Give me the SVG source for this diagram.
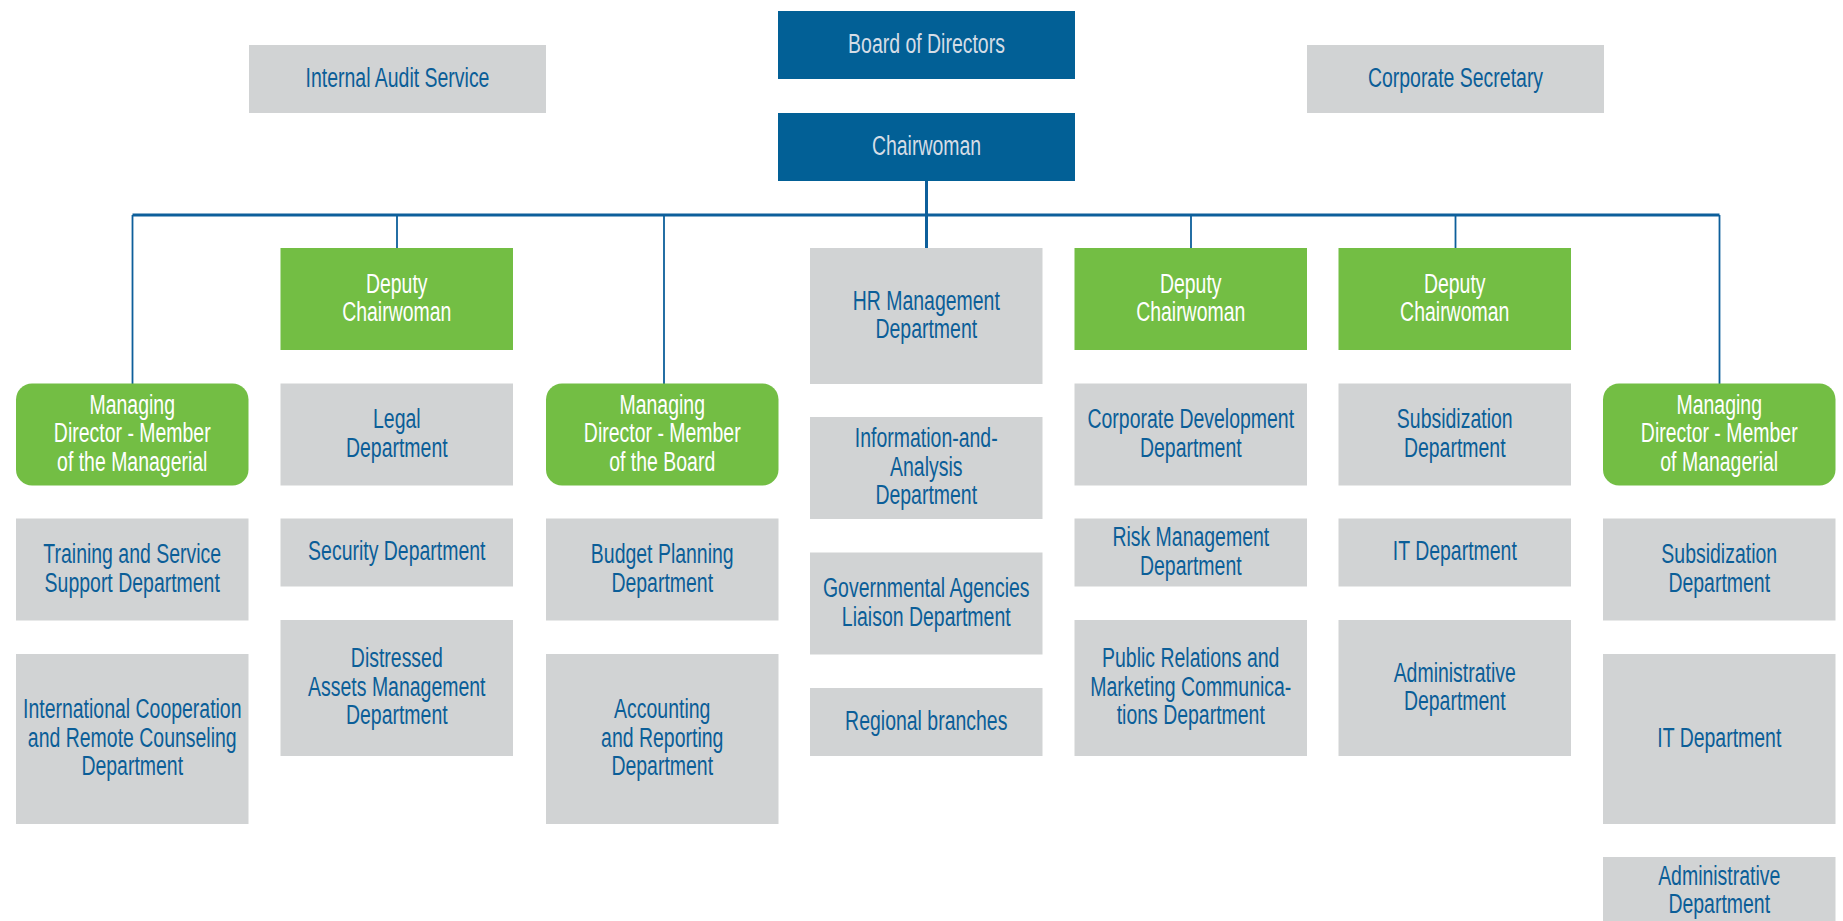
<svg xmlns="http://www.w3.org/2000/svg" width="1843" height="921" viewBox="0 0 1843 921">
<style>
.gray{fill:#d1d3d4}
.blue{fill:#026096}
.green{fill:#73be44}
text{font-family:"Liberation Sans",Arial,sans-serif;font-size:28px;text-anchor:middle;transform-box:fill-box;transform-origin:center;transform:scaleX(.695)}
.tg{fill:#0b5e98}
.tw{fill:#ffffff}
.tb{fill:#d5dde6}
.ln{stroke:#0d5f9b;fill:none}
</style>
<rect width="1843" height="921" fill="#ffffff"/>
<g id="connectors">
<line class="ln" x1="132.5" y1="215" x2="1719.5" y2="215" stroke-width="3"/>
<line class="ln" x1="926.5" y1="181" x2="926.5" y2="248" stroke-width="3"/>
<line class="ln" x1="132.5" y1="215" x2="132.5" y2="384" stroke-width="1.8"/>
<line class="ln" x1="397" y1="215" x2="397" y2="248" stroke-width="1.8"/>
<line class="ln" x1="664" y1="215" x2="664" y2="384" stroke-width="1.8"/>
<line class="ln" x1="1191" y1="215" x2="1191" y2="248" stroke-width="1.8"/>
<line class="ln" x1="1455.5" y1="215" x2="1455.5" y2="248" stroke-width="1.8"/>
<line class="ln" x1="1719.5" y1="215" x2="1719.5" y2="384" stroke-width="1.8"/>
</g>
<g id="internal-audit"><rect class="gray" x="249" y="45" width="297" height="68"/><text class="tg" x="397.5" y="87">Internal Audit Service</text></g>
<g id="board"><rect class="blue" x="778" y="11" width="297" height="68"/><text class="tb" x="926.5" y="53">Board of Directors</text></g>
<g id="corporate-secretary"><rect class="gray" x="1307" y="45" width="297" height="68"/><text class="tg" x="1455.5" y="87">Corporate Secretary</text></g>
<g id="chairwoman"><rect class="blue" x="778" y="113" width="297" height="68"/><text class="tb" x="926.5" y="155">Chairwoman</text></g>

<g id="md1"><rect class="green" x="16" y="383.5" width="232.5" height="102" rx="16"/><text class="tw" x="132.25" y="414">Managing<tspan x="132.25" dy="28.5">Director - Member</tspan><tspan x="132.25" dy="28.5">of the Managerial</tspan></text></g>
<g id="training"><rect class="gray" x="16" y="518.5" width="232.5" height="102"/><text class="tg" x="132.25" y="563.25">Training and Service<tspan x="132.25" dy="28.5">Support Department</tspan></text></g>
<g id="international"><rect class="gray" x="16" y="654" width="232.5" height="170"/><text class="tg" x="132.25" y="718.5">International Cooperation<tspan x="132.25" dy="28.5">and Remote Counseling</tspan><tspan x="132.25" dy="28.5">Department</tspan></text></g>

<g id="deputy1"><rect class="green" x="280.5" y="248" width="232.5" height="102"/><text class="tw" x="396.75" y="292.75">Deputy<tspan x="396.75" dy="28.5">Chairwoman</tspan></text></g>
<g id="legal"><rect class="gray" x="280.5" y="383.5" width="232.5" height="102"/><text class="tg" x="396.75" y="428.25">Legal<tspan x="396.75" dy="28.5">Department</tspan></text></g>
<g id="security"><rect class="gray" x="280.5" y="518.5" width="232.5" height="68"/><text class="tg" x="396.75" y="560.5">Security Department</text></g>
<g id="distressed"><rect class="gray" x="280.5" y="620" width="232.5" height="136"/><text class="tg" x="396.75" y="667.5">Distressed<tspan x="396.75" dy="28.5">Assets Management</tspan><tspan x="396.75" dy="28.5">Department</tspan></text></g>

<g id="md2"><rect class="green" x="546" y="383.5" width="232.5" height="102" rx="16"/><text class="tw" x="662.25" y="414">Managing<tspan x="662.25" dy="28.5">Director - Member</tspan><tspan x="662.25" dy="28.5">of the Board</tspan></text></g>
<g id="budget"><rect class="gray" x="546" y="518.5" width="232.5" height="102"/><text class="tg" x="662.25" y="563.25">Budget Planning<tspan x="662.25" dy="28.5">Department</tspan></text></g>
<g id="accounting"><rect class="gray" x="546" y="654" width="232.5" height="170"/><text class="tg" x="662.25" y="718.5">Accounting<tspan x="662.25" dy="28.5">and Reporting</tspan><tspan x="662.25" dy="28.5">Department</tspan></text></g>

<g id="hr"><rect class="gray" x="810" y="248" width="232.5" height="136"/><text class="tg" x="926.25" y="309.75">HR Management<tspan x="926.25" dy="28.5">Department</tspan></text></g>
<g id="info"><rect class="gray" x="810" y="417" width="232.5" height="102"/><text class="tg" x="926.25" y="447.5">Information-and-<tspan x="926.25" dy="28.5">Analysis</tspan><tspan x="926.25" dy="28.5">Department</tspan></text></g>
<g id="gov"><rect class="gray" x="810" y="552.5" width="232.5" height="102"/><text class="tg" x="926.25" y="597.25">Governmental Agencies<tspan x="926.25" dy="28.5">Liaison Department</tspan></text></g>
<g id="regional"><rect class="gray" x="810" y="688" width="232.5" height="68"/><text class="tg" x="926.25" y="730">Regional branches</text></g>

<g id="deputy2"><rect class="green" x="1074.5" y="248" width="232.5" height="102"/><text class="tw" x="1190.75" y="292.75">Deputy<tspan x="1190.75" dy="28.5">Chairwoman</tspan></text></g>
<g id="corpdev"><rect class="gray" x="1074.5" y="383.5" width="232.5" height="102"/><text class="tg" x="1190.75" y="428.25">Corporate Development<tspan x="1190.75" dy="28.5">Department</tspan></text></g>
<g id="risk"><rect class="gray" x="1074.5" y="518.5" width="232.5" height="68"/><text class="tg" x="1190.75" y="546.25">Risk Management<tspan x="1190.75" dy="28.5">Department</tspan></text></g>
<g id="pr"><rect class="gray" x="1074.5" y="620" width="232.5" height="136"/><text class="tg" x="1190.75" y="667.5">Public Relations and<tspan x="1190.75" dy="28.5">Marketing Communica-</tspan><tspan x="1190.75" dy="28.5">tions Department</tspan></text></g>

<g id="deputy3"><rect class="green" x="1338.5" y="248" width="232.5" height="102"/><text class="tw" x="1454.75" y="292.75">Deputy<tspan x="1454.75" dy="28.5">Chairwoman</tspan></text></g>
<g id="subsid1"><rect class="gray" x="1338.5" y="383.5" width="232.5" height="102"/><text class="tg" x="1454.75" y="428.25">Subsidization<tspan x="1454.75" dy="28.5">Department</tspan></text></g>
<g id="it1"><rect class="gray" x="1338.5" y="518.5" width="232.5" height="68"/><text class="tg" x="1454.75" y="560.5">IT Department</text></g>
<g id="admin1"><rect class="gray" x="1338.5" y="620" width="232.5" height="136"/><text class="tg" x="1454.75" y="681.75">Administrative<tspan x="1454.75" dy="28.5">Department</tspan></text></g>

<g id="md3"><rect class="green" x="1603" y="383.5" width="232.5" height="102" rx="16"/><text class="tw" x="1719.25" y="414">Managing<tspan x="1719.25" dy="28.5">Director - Member</tspan><tspan x="1719.25" dy="28.5">of Managerial</tspan></text></g>
<g id="subsid2"><rect class="gray" x="1603" y="518.5" width="232.5" height="102"/><text class="tg" x="1719.25" y="563.25">Subsidization<tspan x="1719.25" dy="28.5">Department</tspan></text></g>
<g id="it2"><rect class="gray" x="1603" y="654" width="232.5" height="170"/><text class="tg" x="1719.25" y="747">IT Department</text></g>
<g id="admin2"><rect class="gray" x="1603" y="857" width="232.5" height="68"/><text class="tg" x="1719.25" y="884.75">Administrative<tspan x="1719.25" dy="28.5">Department</tspan></text></g>
</svg>
